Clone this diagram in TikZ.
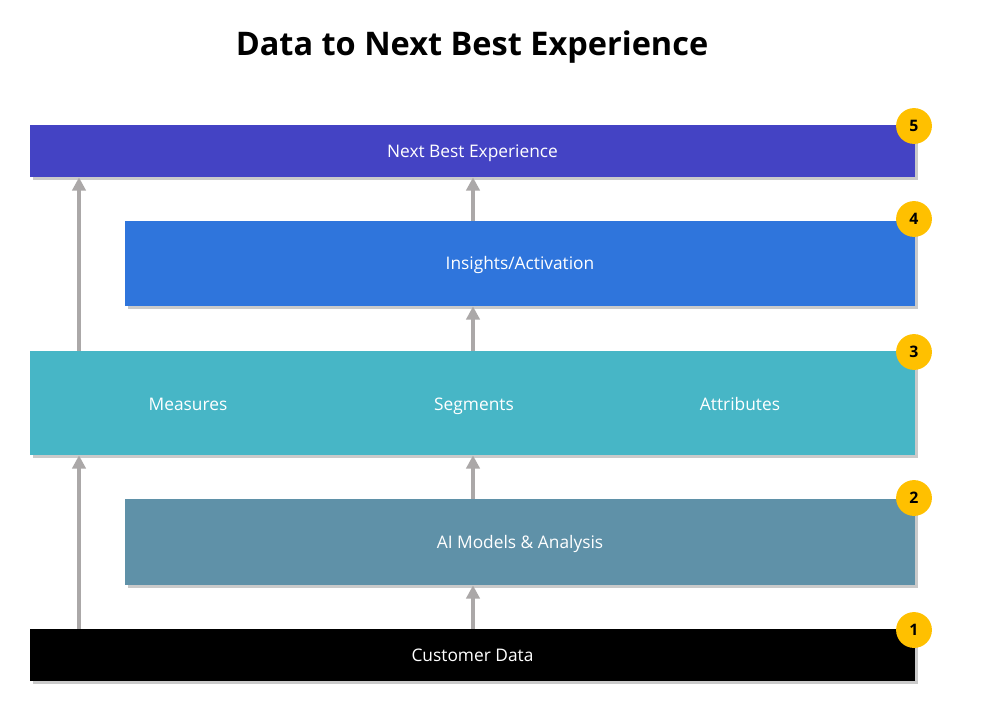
\documentclass[tikz,border=0pt]{standalone}
\usepackage{fontspec}
\setmainfont{Open Sans}
\usetikzlibrary{arrows.meta,shadows}
\definecolor{nbxblue}{RGB}{68,67,196}
\definecolor{insblue}{RGB}{47,117,220}
\definecolor{segteal}{RGB}{71,182,198}
\definecolor{aislate}{RGB}{95,145,168}
\definecolor{badgeyel}{RGB}{255,192,0}
\definecolor{arrgray}{RGB}{171,168,168}
\tikzset{
  layer/.style={rectangle, inner sep=0pt, text=white, font=\fontsize{10.4}{12}\selectfont,
    text height=1.6ex, text depth=.2ex,
    drop shadow={shadow xshift=1.5pt, shadow yshift=-2pt, opacity=.35, fill=black!60}},
  label/.style={text=white, font=\fontsize{10.4}{12}\selectfont, text height=1.6ex, text depth=.2ex},
  badge/.style={circle, fill=badgeyel, minimum size=21.5pt, inner sep=0pt, font=\bfseries\fontsize{9.5}{11}\selectfont},
  uparrow/.style={arrgray, line width=2.4pt, -{Triangle[width=8pt,length=8pt]}}
}
\begin{document}
\begin{tikzpicture}[x=0.6pt,y=-0.6pt]
\useasboundingbox (0,0) rectangle (984,708);
\node (title) at (472,47) {\bfseries\fontsize{19.5}{23}\selectfont Data to Next Best Experience};

\node [layer, fill=nbxblue, minimum width={885*0.6pt}, minimum height={52*0.6pt}] (nbx) at (472.5,151) {Next Best Experience};
\node [layer, fill=insblue, minimum width={790*0.6pt}, minimum height={85*0.6pt}] (ins) at (520,263.5) {Insights/Activation};
\node [layer, fill=segteal, minimum width={885*0.6pt}, minimum height={104*0.6pt}] (seg) at (472.5,403) {};
\node [layer, fill=aislate, minimum width={790*0.6pt}, minimum height={86*0.6pt}] (ai) at (520,542) {AI Models \& Analysis};
\node [layer, fill=black, minimum width={885*0.6pt}, minimum height={52*0.6pt}] (cust) at (472.5,655) {Customer Data};

\node [label] (measures) at (188,404) {Measures};
\node [label] (segments) at (474,404) {Segments};
\node [label] (attributes) at (740,404) {Attributes};

\node [badge] (b5) at (914,126) {5};
\node [badge] (b4) at (914,219) {4};
\node [badge] (b3) at (914,352) {3};
\node [badge] (b2) at (914,498) {2};
\node [badge] (b1) at (914,630) {1};

\coordinate (lx) at (79,0);
\coordinate (cx) at (473,0);
\draw [uparrow] (cust.north -| lx) -- (seg.south -| lx);
\draw [uparrow] (seg.north -| lx) -- (nbx.south -| lx);
\draw [uparrow] (cust.north -| cx) -- (ai.south -| cx);
\draw [uparrow] (ai.north -| cx) -- (seg.south -| cx);
\draw [uparrow] (seg.north -| cx) -- (ins.south -| cx);
\draw [uparrow] (ins.north -| cx) -- (nbx.south -| cx);
\end{tikzpicture}
\end{document}
